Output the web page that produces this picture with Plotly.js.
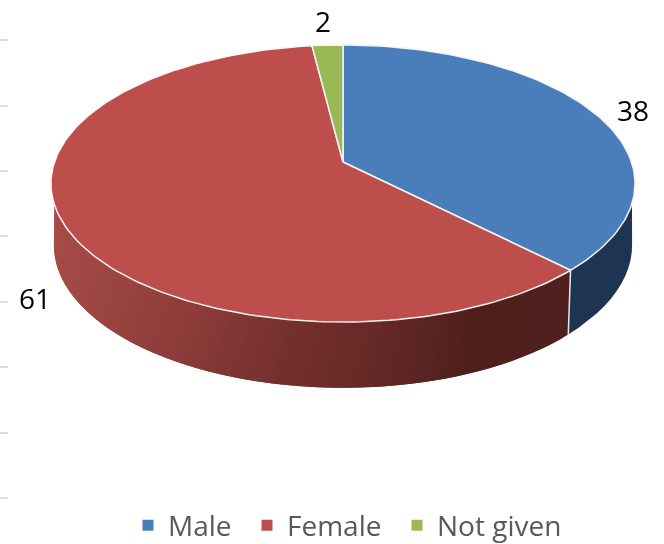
<!DOCTYPE html>
<html>
<head>
<meta charset="utf-8">
<script src="https://cdn.plot.ly/plotly-3.0.1.min.js"></script>
<style>html,body{margin:0;padding:0;background:#fff;overflow:hidden}#frame{width:664px;height:544px;overflow:hidden;filter:blur(0.4px)}</style>
</head>
<body>
<div id="frame"><div id="chart"></div></div>
<script>
// Data
const categories = ["Male", "Female", "Not given"];
const values = [38, 61, 2];
const gridTickVals = [40, 106, 171, 236, 302, 367, 433, 498];

// Styling / geometry of the tilted pie (perspective projection of a circle)
const topColors = ["#4A7EBB", "#BD4E4B", "#98B954"];
const apex = {x: 343, y: 162};
const A = 288.5, B = 135.2, K = -0.155;
const depthY = 61, bottomSX = 0.99, bottomSY = 1.03;
const labelPos = [{x: 633, y: 110}, {x: 35, y: 298}, {x: 323, y: 21}];
const legendX = [128, 247, 397];
const redRamp = [[55,[166,76,72]],[200,[140,60,57]],[300,[117,48,45]],[400,[98,40,37]],[480,[79,31,28]],[570,[79,32,29]]];
const blueSide = "#1D3552";
const deg = d => d / 180 * Math.PI;

const total = values.reduce((a, b) => a + b, 0);
const toRad = f => f * 2 * Math.PI;
function project(t) {
  const u = Math.sin(t), v = -Math.cos(t), w = 1 + K * v;
  return {dx: A * u / w, dy: B * v / w};
}
const rimTop = t => { const p = project(t); return {x: apex.x + p.dx, y: apex.y + p.dy}; };
const rimBot = t => { const p = project(t); return {x: apex.x + bottomSX * p.dx, y: apex.y + depthY + bottomSY * p.dy}; };
function rampColor(x) {
  for (let i = 0; i < redRamp.length - 1; i++) {
    const [x0, c0] = redRamp[i], [x1, c1] = redRamp[i + 1];
    if (x <= x1) {
      const f = Math.max(0, (x - x0) / (x1 - x0));
      return "rgb(" + c0.map((c, j) => Math.round(c + (c1[j] - c) * f)).join(",") + ")";
    }
  }
  return "rgb(" + redRamp[redRamp.length - 1][1].join(",") + ")";
}

const traces = [];
const fracEnd = [];
values.reduce((acc, v, i) => (fracEnd[i] = (acc + v) / total, acc + v), 0);

// Wall polygon: top rim from a0 to a1, back along the bottom rim from b1 to b0
function wall(a0, a1, b0, b1, color) {
  const n = 12, xs = [], ys = [];
  for (let i = 0; i <= n; i++) { const p = rimTop(a0 + (a1 - a0) * i / n); xs.push(p.x); ys.push(p.y); }
  for (let i = n; i >= 0; i--) { const p = rimBot(b0 + (b1 - b0) * i / n); xs.push(p.x); ys.push(p.y); }
  xs.push(xs[0]); ys.push(ys[0]);
  traces.push({type: "scatter", mode: "lines", x: xs, y: ys, fill: "toself", fillcolor: color,
    line: {color: color, width: 0}, showlegend: false, hoverinfo: "skip"});
}

// Side wall, from the values: blue part then red part.
// Each red step overlaps the next one so that no seams show.
const splitAngle = toRad(fracEnd[0]);
wall(deg(107), splitAngle, deg(98.6), splitAngle, blueSide);
const redSteps = 90, topEnd = deg(252.4), botEnd = deg(261.4);
for (let i = 0; i < redSteps; i++) {
  const j = Math.min(redSteps, i + 2);
  const t0 = splitAngle + (topEnd - splitAngle) * i / redSteps;
  const t1 = splitAngle + (topEnd - splitAngle) * j / redSteps;
  const b0 = splitAngle + (botEnd - splitAngle) * i / redSteps;
  const b1 = splitAngle + (botEnd - splitAngle) * j / redSteps;
  wall(t0, t1, b0, b1, rampColor(rimTop(t0).x));
}
// Seam between the blue and red walls
const sT = rimTop(splitAngle), sB = rimBot(splitAngle);
traces.push({type: "scatter", mode: "lines", x: [sT.x, sB.x], y: [sT.y, sB.y],
  line: {color: "#E8E8E8", width: 1.5}, showlegend: false, hoverinfo: "skip"});

// Top faces
let acc = 0;
values.forEach((v, i) => {
  const a0 = toRad(acc / total), a1 = toRad((acc + v) / total);
  acc += v;
  const n = Math.max(12, Math.round(v * 3));
  const xs = [apex.x], ys = [apex.y];
  for (let j = 0; j <= n; j++) { const p = rimTop(a0 + (a1 - a0) * j / n); xs.push(p.x); ys.push(p.y); }
  xs.push(apex.x); ys.push(apex.y);
  traces.push({type: "scatter", mode: "lines", x: xs, y: ys, fill: "toself", fillcolor: topColors[i],
    line: {color: "#F4F4F4", width: 1.5}, name: categories[i], showlegend: false, hoverinfo: "skip"});
});

// Legend entries, one positioned legend per category
const legendIds = ["legend", "legend2", "legend3"];
categories.forEach((c, i) => {
  traces.push({type: "scatter", mode: "markers", x: [null], y: [null], name: c, legend: legendIds[i],
    showlegend: true, marker: {symbol: "square", size: 11, color: topColors[i]}, hoverinfo: "skip"});
});

const layout = {
  width: 664, height: 584,
  margin: {l: 0, r: 0, t: 0, b: 40},
  paper_bgcolor: "#fff", plot_bgcolor: "#fff",
  hovermode: false,
  xaxis: {range: [0, 664], visible: false, fixedrange: true},
  yaxis: {range: [544, 0], fixedrange: true, showgrid: false, zeroline: false, showline: false,
    tickmode: "array", tickvals: gridTickVals, ticktext: gridTickVals.map(() => ""),
    ticks: "inside", ticklen: 8, tickwidth: 2, tickcolor: "#DDDDDD", showticklabels: false},
  annotations: values.map((v, i) => ({
    x: labelPos[i].x, y: labelPos[i].y, xref: "x", yref: "y", text: String(v), showarrow: false,
    font: {family: "Open Sans", size: 28, color: "#000"}, xanchor: "center", yanchor: "middle"
  }))
};
legendIds.forEach((id, i) => {
  layout[id] = {orientation: "h", x: legendX[i] / 664, xanchor: "left", y: -0.012, yanchor: "bottom",
    font: {family: "Open Sans", size: 28, color: "#595959"}, itemwidth: 30, bgcolor: "rgba(0,0,0,0)"};
});
Plotly.newPlot("chart", traces, layout, {displayModeBar: false, staticPlot: true});
</script>
</body>
</html>
